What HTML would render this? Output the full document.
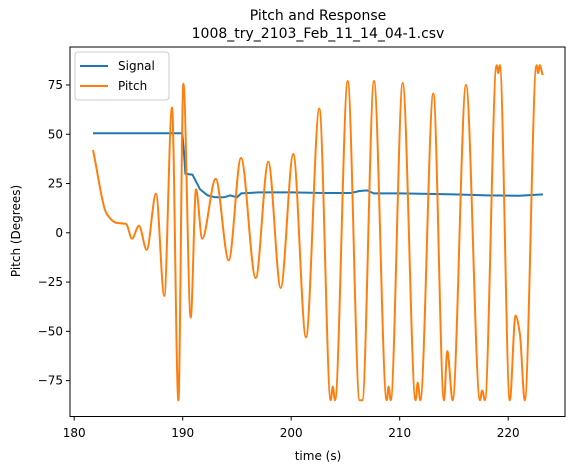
<!DOCTYPE html>
<html><head><meta charset="utf-8"><style>
body{margin:0;background:#fff;}
svg{display:block;font-family:"DejaVu Sans","Liberation Sans",sans-serif;}
</style></head><body>
<svg id="chart" width="578" height="470" viewBox="0 0 578 470">
<text x="318" y="20" text-anchor="middle" font-size="14" fill="#000">Pitch and Response</text>
<text x="318" y="38" text-anchor="middle" font-size="14" fill="#000">1008_try_2103_Feb_11_14_04-1.csv</text>
<g id="plot"></g>
<rect x="70" y="47" width="495" height="369.5" fill="none" stroke="#000" stroke-width="1"/>
<g id="xt"></g><g id="yt"></g>
<text x="318" y="460" text-anchor="middle" font-size="12">time (s)</text>
<text transform="translate(20,231) rotate(-90)" text-anchor="middle" font-size="12">Pitch (Degrees)</text>
<g>
<rect x="75" y="52" width="94" height="48" rx="3" fill="#fff" fill-opacity="0.8" stroke="#ccc"/>
<line x1="80" y1="66" x2="108" y2="66" stroke="#1f77b4" stroke-width="2"/>
<text x="118" y="70" font-size="12">Signal</text>
<line x1="80" y1="86" x2="108" y2="86" stroke="#ff7f0e" stroke-width="2"/>
<text x="118" y="90" font-size="12">Pitch</text>
</g>
</svg>
<script>
const xTicks=[180,190,200,210,220];
const yTicks=[-75,-50,-25,0,25,50,75];
const signalT=[181.73,189.95,190.1,190.25,190.9,191.6,192.3,193.0,193.8,194.4,195.0,195.4,197,200,203,205.5,206.3,207,207.6,210,212,215,218,221,223.2];
const signalV=[50.5,50.5,42,30,29.5,22,19,18,18,19,18,20,20.5,20.5,20.2,20.2,21.2,21.5,20,20,19.8,19.5,19,18.8,19.5];
const pitchT=[181.73,183.0,183.92,184.77,185.33,185.97,186.68,187.54,188.3,189.01,189.6,190.06,190.74,191.23,191.8,193.04,194.24,195.37,196.73,197.89,199.03,200.19,201.36,202.59,203.64,203.83,204.04,205.21,206.3,206.55,207.63,208.8,208.98,209.17,210.28,211.47,211.66,211.9,213.1,214.08,214.39,214.88,216.11,217.4,217.6,217.85,218.93,219.08,219.23,220.15,220.67,221.07,221.53,222.61,222.76,222.9,223.18];
const pitchV=[42,9.6,5,4.5,-3,3.6,-8.6,19.8,-32,63.5,-85,75.6,-43,22,-3,27.4,-14,38,-23,36,-28,40,-53,63,-85,-78,-85,77,-85,-85,77,-85,-78,-85,76,-85,-76,-85,70.7,-85,-60,-85,75,-85,-80,-85,85,81,85,-85,-42,-51,-85,85,81,85,80];
const X=t=>74.2+(t-180)*10.85;
const Y=v=>232.8-v*1.971;
const NS='http://www.w3.org/2000/svg';
function mk(tag,attrs,parent){const e=document.createElementNS(NS,tag);for(const k in attrs)e.setAttribute(k,attrs[k]);parent.appendChild(e);return e;}
function smoothPath(ts,vs){
  const n=ts.length,xs=ts.map(X),ys=vs.map(Y);
  const d=[],m=new Array(n).fill(0);
  for(let i=0;i<n-1;i++)d.push((ys[i+1]-ys[i])/(xs[i+1]-xs[i]));
  m[0]=d[0];m[n-1]=d[n-2];
  for(let i=1;i<n-1;i++){m[i]=(d[i-1]*d[i]<=0)?0:2/(1/d[i-1]+1/d[i]);}
  let p='M'+xs[0].toFixed(1)+','+ys[0].toFixed(1);
  for(let i=0;i<n-1;i++){const h=(xs[i+1]-xs[i])/3;
    p+=' C'+(xs[i]+h).toFixed(1)+','+(ys[i]+m[i]*h).toFixed(1)+' '+(xs[i+1]-h).toFixed(1)+','+(ys[i+1]-m[i+1]*h).toFixed(1)+' '+xs[i+1].toFixed(1)+','+ys[i+1].toFixed(1);}
  return p;
}
const plot=document.getElementById('plot');
const sig=mk('polyline',{points:signalT.map((t,i)=>X(t).toFixed(1)+','+Y(signalV[i]).toFixed(1)).join(' '),fill:'none',stroke:'#1f77b4','stroke-width':2},plot);


const pit=mk('path',{d:smoothPath(pitchT,pitchV),fill:'none',stroke:'#ff7f0e','stroke-width':2,'stroke-linejoin':'round'},plot);


const xt=document.getElementById('xt');
xTicks.forEach(t=>{
  const l=mk('line',{x1:X(t),x2:X(t),y1:416.5,y2:420.5,stroke:'#000'},xt);
  
  
  const s=mk('text',{x:X(t),y:437,'text-anchor':'middle','font-size':12},xt);s.textContent=t;
  
  
});
const yt=document.getElementById('yt');
yTicks.forEach(v=>{
  const l=mk('line',{x1:66,x2:70,y1:Y(v),y2:Y(v),stroke:'#000'},yt);
  
  
  const s=mk('text',{x:63,y:Y(v)+4,'text-anchor':'end','font-size':12},yt);s.textContent=v<0?'\u2212'+(-v):v;
  
  
});
</script>
</body></html>
